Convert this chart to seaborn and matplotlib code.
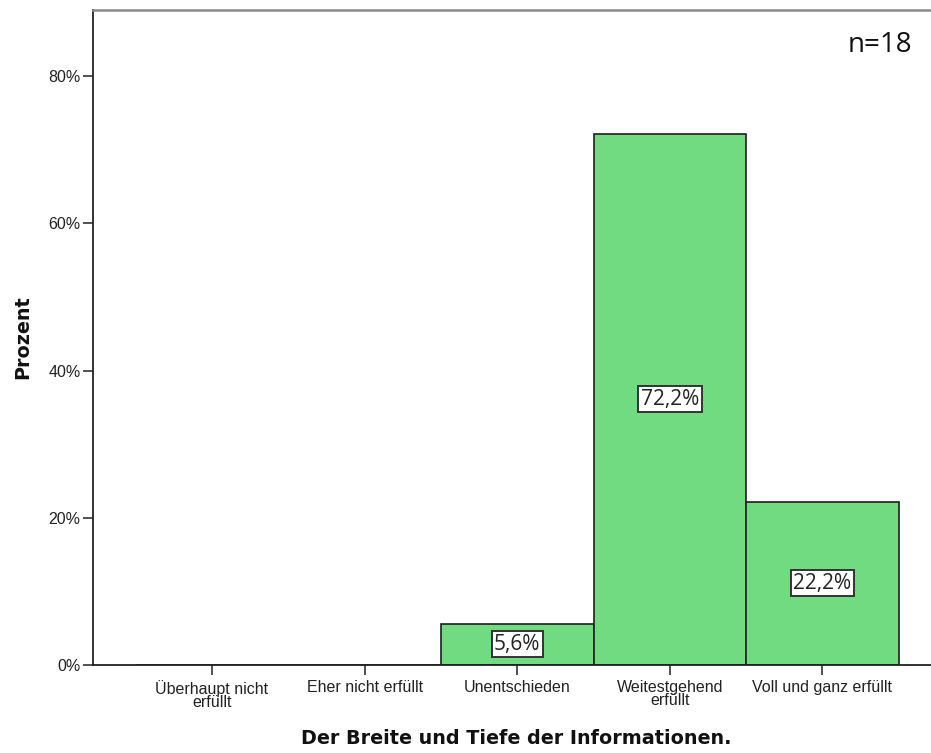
import matplotlib
matplotlib.use("Agg")
import matplotlib.pyplot as plt
import seaborn as sns
import pandas as pd

categories = ["Überhaupt nicht\nerfüllt", "Eher nicht erfüllt", "Unentschieden",
              "Weitestgehend\nerfüllt", "Voll und ganz erfüllt"]
values = [0.0, 0.0, 5.6, 72.2, 22.2]
yticks = [0, 20, 40, 60, 80]
n_text = "n=18"
xlabel = "Der Breite und Tiefe der Informationen."
ylabel = "Prozent"

sns.set_theme(style="white")
plt.rcParams["font.family"] = ["Liberation Sans", "DejaVu Sans"]

df = pd.DataFrame({"cat": categories, "val": values})

fig = plt.figure(figsize=(9.31, 7.53), dpi=100)
ax = fig.add_axes([93 / 931, 1 - 665 / 753, 1 - 93 / 931, (665 - 10) / 753])

sns.barplot(data=df, x="cat", y="val", order=categories, width=1.0,
            color="#70DB80", saturation=1, edgecolor="#1e1e1e", linewidth=1.2, ax=ax)

ax.set_xlim(-0.78, 4.711)
ax.set_ylim(0, 89)
ax.set_yticks(yticks)
ax.set_yticklabels([f"{t}%" for t in yticks])

for s in ["left", "bottom"]:
    ax.spines[s].set_color("#222222")
    ax.spines[s].set_linewidth(1.3)
ax.spines["top"].set_color("#888888")
ax.spines["top"].set_linewidth(1.8)
ax.spines["right"].set_visible(False)

ax.tick_params(axis="both", which="both", direction="out", length=7, width=1.1,
               color="#222222", labelcolor="#222222", labelsize=11.5)
ax.tick_params(axis="y", pad=2, left=True)
ax.tick_params(axis="x", pad=4, bottom=True)
for lab in ax.get_xticklabels():
    lab.set_linespacing(0.8)

ax.set_xlabel(xlabel, fontsize=13.8, fontweight="bold", family="DejaVu Sans", color="#111111")
ax.set_ylabel(ylabel, fontsize=13.8, fontweight="bold", family="DejaVu Sans", color="#111111")
ax.xaxis.set_label_coords((516 - 93) / 838, (665 - 729) / 655)
ax.yaxis.set_label_coords((32 - 93) / 838, 0.5)

labels = [("" if v == 0 else f"{v:.1f}%".replace(".", ",")) for v in values]
ax.bar_label(ax.containers[0], labels=labels, label_type="center",
             fontsize=15, family="Open Sans", color="#222222",
             bbox=dict(boxstyle="square,pad=0.12", facecolor="white",
                       edgecolor="#333333", linewidth=1.4))

fig.text(912 / 931, 1 - 45 / 753, n_text, ha="right", va="center",
         fontsize=20, family="Open Sans", color="#111111")

fig.savefig("out.png", dpi=100)
